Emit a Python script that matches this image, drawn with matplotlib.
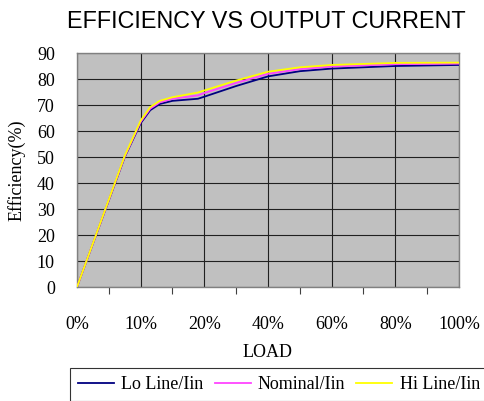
import matplotlib

matplotlib.use("Agg")
import matplotlib.pyplot as plt

# category positions: 0..6 -> 0%,10%,20%,40%,60%,80%,100%
LOAD_LABELS = ["0%", "10%", "20%", "40%", "60%", "80%", "100%"]
X_POS = [0, 0.75, 1.0, 1.15, 1.3, 1.5, 1.9, 2.0, 2.5, 3.0, 3.5, 4.0, 5.0, 6.0]
LO_LINE = [0, 50.0, 63.0, 68.0, 70.4, 71.6, 72.4, 73.2, 77.3, 81.0, 83.0, 84.0, 85.0, 85.4]
NOMINAL = [0, 50.2, 63.5, 68.6, 71.0, 72.4, 73.7, 74.6, 78.5, 82.0, 83.8, 84.8, 85.7, 85.9]
HI_LINE = [0, 50.5, 64.0, 69.2, 71.6, 73.0, 74.8, 75.6, 79.4, 82.8, 84.5, 85.4, 86.2, 86.3]

SERIF = "Liberation Serif"

fig = plt.figure(figsize=(4.85, 4.01), dpi=100)
ax = fig.add_axes([77 / 485, 114 / 401, 382 / 485, 234 / 401])
ax.set_facecolor("#c0c0c0")

ax.plot(X_POS, LO_LINE, color="#000080", lw=1.3, label="Lo Line/Iin", zorder=3)
ax.plot(X_POS, NOMINAL, color="#ff44ff", lw=1.3, label="Nominal/Iin", zorder=4)
ax.plot(X_POS, HI_LINE, color="#ffff00", lw=1.3, label="Hi Line/Iin", zorder=5)

ax.set_xlim(0, 6)
ax.set_ylim(0, 90)
ax.set_yticks(range(0, 91, 10))
ax.set_xticks(range(7))
ax.set_xticklabels(LOAD_LABELS)
ax.set_xticks([i + 0.5 for i in range(6)], minor=True)
ax.grid(True, which="major", color="#202020", lw=0.8)
ax.tick_params(axis="both", which="major", length=0, labelsize=13)
ax.tick_params(axis="x", which="major", pad=21)
ax.tick_params(axis="y", which="major", pad=16)
ax.tick_params(axis="x", which="minor", length=5, width=0.8, color="#404040")
for lab in ax.get_xticklabels() + ax.get_yticklabels():
    lab.set_family(SERIF)
for s in ax.spines.values():
    s.set_color("#808080")
    s.set_linewidth(1.0)

ax.set_xlabel("LOAD", family=SERIF, fontsize=13, labelpad=8)
ax.set_ylabel("Efficiency(%)", family=SERIF, fontsize=13, labelpad=8)

fig.text(266 / 485, 1 - 21 / 401, "EFFICIENCY VS OUTPUT CURRENT",
         ha="center", va="center", family="Liberation Sans", fontsize=16.8)

leg = fig.legend(loc="upper left", bbox_to_anchor=(70 / 485, 1 - 368 / 401),
                 ncol=3, frameon=True, fancybox=False, borderaxespad=0,
                 prop={"family": SERIF, "size": 13}, handlelength=2.0,
                 handletextpad=0.4, columnspacing=0.6, borderpad=0.45)
leg.get_frame().set_edgecolor("#000000")
leg.get_frame().set_linewidth(0.8)

fig.savefig("out.png", dpi=100)
